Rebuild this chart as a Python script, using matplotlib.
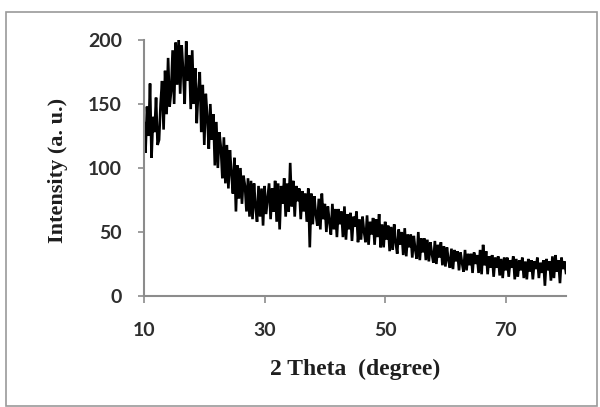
import numpy as np
import matplotlib
matplotlib.use("Agg")
import matplotlib.pyplot as plt
from matplotlib.patches import Rectangle

# 2-theta start/step (degrees) and intensity readings (a. u.) every 0.25 degree
theta_start = 10.0
theta_step = 0.25
intensity = [
    135, 112, 148, 125, 166, 108, 140, 128,
    155, 118, 122, 150, 168, 130, 176, 142,
    186, 148, 160, 192, 150, 198, 165, 201,
    158, 196, 175, 150, 199, 168, 188, 146,
    192, 150, 178, 135, 160, 175, 128, 165,
    118, 158, 140, 115, 150, 122, 142, 102,
    136, 100, 128, 116, 92, 124, 88, 118,
    84, 114, 96, 80, 108, 66, 102, 76,
    100, 72, 94, 86, 66, 92, 62, 90,
    60, 88, 70, 58, 86, 62, 84, 55,
    86, 64, 76, 88, 60, 84, 66, 90,
    58, 88, 52, 86, 72, 92, 62, 88,
    66, 104, 70, 90, 62, 86, 74, 84,
    60, 82, 66, 80, 58, 84, 38, 80,
    56, 78, 64, 55, 76, 52, 80, 60,
    72, 50, 70, 58, 48, 72, 52, 68,
    46, 68, 56, 66, 46, 70, 44, 64,
    52, 65, 43, 62, 54, 66, 42, 60,
    44, 62, 50, 42, 63, 40, 58, 48,
    61, 40, 60, 46, 64, 38, 56, 38,
    58, 44, 55, 35, 54, 36, 56, 42,
    33, 52, 40, 50, 32, 53, 31, 48,
    38, 48, 30, 47, 36, 29, 50, 28,
    45, 34, 45, 28, 44, 27, 42, 33,
    26, 43, 25, 40, 30, 42, 24, 39,
    23, 38, 28, 22, 37, 21, 36, 27,
    35, 20, 34, 26, 19, 36, 20, 33,
    24, 33, 18, 34, 25, 32, 18, 36,
    17, 40, 24, 35, 17, 31, 22, 32,
    15, 30, 22, 31, 16, 29, 14, 30,
    20, 30, 15, 28, 22, 31, 13, 29,
    15, 28, 20, 30, 14, 27, 13, 29,
    19, 28, 13, 27, 21, 30, 14, 26,
    18, 28, 8, 29, 20, 27, 12, 31,
    14, 32, 19, 28, 10, 30, 21, 27,
    18,
]
x_ticks = [10, 30, 50, 70]
y_ticks = [0, 50, 100, 150, 200]
x_label = "2 Theta  (degree)"
y_label = "Intensity (a. u.)"

theta = theta_start + theta_step * np.arange(len(intensity))

fig = plt.figure(figsize=(6.0, 4.07), dpi=100)
fig.patch.set_facecolor("white")
fig.patches.append(Rectangle((6 / 600, 1 / 407), 591 / 600, 394 / 407,
                             transform=fig.transFigure, fill=False,
                             edgecolor="#9a9a9a", linewidth=1.2))

ax = fig.add_axes([144 / 600, 1 - 296 / 407, 422 / 600, 256 / 407])
ax.plot(theta, intensity, color="black", linewidth=1.9, solid_joinstyle="miter")
ax.set_xlim(10, 80)
ax.set_ylim(0, 200)
ax.set_xticks(x_ticks)
ax.set_yticks(y_ticks)
for s in ("top", "right"):
    ax.spines[s].set_visible(False)
for s in ("left", "bottom"):
    ax.spines[s].set_color("#8c8c8c")
    ax.spines[s].set_linewidth(1.5)
ax.tick_params(axis="x", direction="out", length=5, width=1.2, color="#8c8c8c", pad=14)
ax.tick_params(axis="y", direction="out", length=4, width=1.2, color="#8c8c8c", pad=12)
for lab in ax.get_xticklabels() + ax.get_yticklabels():
    lab.set_fontfamily("Lato")
    lab.set_fontweight("bold")
    lab.set_fontsize(14)
    lab.set_color("#2e2e2e")

fig.text(355 / 600, 1 - 369 / 407, x_label, ha="center", va="center",
         fontfamily="Liberation Serif", fontweight="bold", fontsize=17, color="#1e1e1e")
fig.text(58 / 600, 1 - 170 / 407, y_label, ha="center", va="center", rotation=90,
         fontfamily="Liberation Serif", fontweight="bold", fontsize=16, color="#1e1e1e")

fig.savefig("out.png", dpi=100, facecolor="white")
